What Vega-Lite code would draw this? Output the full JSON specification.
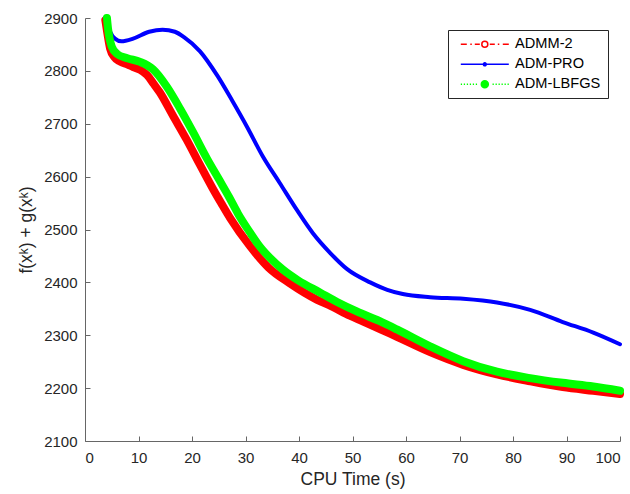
{
  "$schema": "https://vega.github.io/schema/vega-lite/v6.json",
  "width": 535,
  "height": 423,
  "autosize": "none",
  "padding": {"left": 85, "top": 18, "right": 10, "bottom": 53},
  "background": "white",
  "config": {
    "font": "Liberation Sans",
    "view": {"stroke": null},
    "axis": {
      "grid": false,
      "domainColor": "#666666",
      "tickColor": "#666666",
      "labelColor": "#262626",
      "titleColor": "#262626",
      "labelFontSize": 15,
      "titleFontSize": 17.5,
      "titleFontWeight": "normal",
      "tickSize": -5,
      "domainWidth": 1,
      "tickWidth": 1,
      "format": "d"
    }
  },
  "data": {
    "values": [
      {"method": "ADMM-2", "t": 3.8, "f": 2896},
      {"method": "ADMM-2", "t": 4.2, "f": 2870},
      {"method": "ADMM-2", "t": 4.7, "f": 2842},
      {"method": "ADMM-2", "t": 5.5, "f": 2826},
      {"method": "ADMM-2", "t": 6.5, "f": 2818},
      {"method": "ADMM-2", "t": 8.0, "f": 2812},
      {"method": "ADMM-2", "t": 9.0, "f": 2807},
      {"method": "ADMM-2", "t": 10.3, "f": 2802},
      {"method": "ADMM-2", "t": 11.6, "f": 2792},
      {"method": "ADMM-2", "t": 12.8, "f": 2776},
      {"method": "ADMM-2", "t": 14.0, "f": 2759},
      {"method": "ADMM-2", "t": 16.4, "f": 2716},
      {"method": "ADMM-2", "t": 19.0, "f": 2670},
      {"method": "ADMM-2", "t": 21.4, "f": 2624},
      {"method": "ADMM-2", "t": 23.9, "f": 2577},
      {"method": "ADMM-2", "t": 25.5, "f": 2549},
      {"method": "ADMM-2", "t": 27.1, "f": 2522},
      {"method": "ADMM-2", "t": 30.8, "f": 2469},
      {"method": "ADMM-2", "t": 34.3, "f": 2428},
      {"method": "ADMM-2", "t": 38.3, "f": 2398},
      {"method": "ADMM-2", "t": 43.4, "f": 2367},
      {"method": "ADMM-2", "t": 46.0, "f": 2355},
      {"method": "ADMM-2", "t": 49.5, "f": 2337},
      {"method": "ADMM-2", "t": 52.0, "f": 2326},
      {"method": "ADMM-2", "t": 58.3, "f": 2297},
      {"method": "ADMM-2", "t": 64.5, "f": 2268},
      {"method": "ADMM-2", "t": 70.7, "f": 2244},
      {"method": "ADMM-2", "t": 77.0, "f": 2226},
      {"method": "ADMM-2", "t": 83.2, "f": 2213},
      {"method": "ADMM-2", "t": 89.3, "f": 2202},
      {"method": "ADMM-2", "t": 95.0, "f": 2195},
      {"method": "ADMM-2", "t": 100.0, "f": 2189},
      {"method": "ADM-PRO", "t": 3.7, "f": 2900},
      {"method": "ADM-PRO", "t": 4.2, "f": 2888},
      {"method": "ADM-PRO", "t": 4.7, "f": 2874},
      {"method": "ADM-PRO", "t": 5.6, "f": 2861},
      {"method": "ADM-PRO", "t": 6.8, "f": 2856},
      {"method": "ADM-PRO", "t": 9.0, "f": 2861},
      {"method": "ADM-PRO", "t": 12.0, "f": 2874},
      {"method": "ADM-PRO", "t": 14.5, "f": 2878},
      {"method": "ADM-PRO", "t": 16.8, "f": 2874},
      {"method": "ADM-PRO", "t": 18.5, "f": 2864},
      {"method": "ADM-PRO", "t": 21.5, "f": 2837},
      {"method": "ADM-PRO", "t": 24.8, "f": 2790},
      {"method": "ADM-PRO", "t": 27.5, "f": 2744},
      {"method": "ADM-PRO", "t": 30.3, "f": 2694},
      {"method": "ADM-PRO", "t": 33.3, "f": 2637},
      {"method": "ADM-PRO", "t": 36.4, "f": 2588},
      {"method": "ADM-PRO", "t": 39.6, "f": 2537},
      {"method": "ADM-PRO", "t": 42.6, "f": 2493},
      {"method": "ADM-PRO", "t": 45.8, "f": 2456},
      {"method": "ADM-PRO", "t": 49.0, "f": 2425},
      {"method": "ADM-PRO", "t": 53.3, "f": 2400},
      {"method": "ADM-PRO", "t": 56.5, "f": 2386},
      {"method": "ADM-PRO", "t": 59.4, "f": 2378},
      {"method": "ADM-PRO", "t": 64.5, "f": 2372},
      {"method": "ADM-PRO", "t": 70.7, "f": 2369},
      {"method": "ADM-PRO", "t": 77.0, "f": 2362},
      {"method": "ADM-PRO", "t": 83.2, "f": 2348},
      {"method": "ADM-PRO", "t": 89.3, "f": 2325},
      {"method": "ADM-PRO", "t": 95.0, "f": 2305},
      {"method": "ADM-PRO", "t": 100.0, "f": 2283},
      {"method": "ADM-LBFGS", "t": 4.1, "f": 2900},
      {"method": "ADM-LBFGS", "t": 4.3, "f": 2880},
      {"method": "ADM-LBFGS", "t": 5.0, "f": 2846},
      {"method": "ADM-LBFGS", "t": 6.0, "f": 2832},
      {"method": "ADM-LBFGS", "t": 7.9, "f": 2824},
      {"method": "ADM-LBFGS", "t": 10.3, "f": 2817},
      {"method": "ADM-LBFGS", "t": 12.7, "f": 2803},
      {"method": "ADM-LBFGS", "t": 15.3, "f": 2770},
      {"method": "ADM-LBFGS", "t": 17.8, "f": 2728},
      {"method": "ADM-LBFGS", "t": 20.2, "f": 2684},
      {"method": "ADM-LBFGS", "t": 22.8, "f": 2634},
      {"method": "ADM-LBFGS", "t": 25.2, "f": 2592},
      {"method": "ADM-LBFGS", "t": 26.9, "f": 2562},
      {"method": "ADM-LBFGS", "t": 28.6, "f": 2530},
      {"method": "ADM-LBFGS", "t": 30.8, "f": 2495},
      {"method": "ADM-LBFGS", "t": 32.5, "f": 2470},
      {"method": "ADM-LBFGS", "t": 34.6, "f": 2446},
      {"method": "ADM-LBFGS", "t": 37.0, "f": 2424},
      {"method": "ADM-LBFGS", "t": 39.8, "f": 2404},
      {"method": "ADM-LBFGS", "t": 43.9, "f": 2381},
      {"method": "ADM-LBFGS", "t": 47.5, "f": 2361},
      {"method": "ADM-LBFGS", "t": 50.8, "f": 2345},
      {"method": "ADM-LBFGS", "t": 55.0, "f": 2327},
      {"method": "ADM-LBFGS", "t": 58.3, "f": 2311},
      {"method": "ADM-LBFGS", "t": 64.5, "f": 2279},
      {"method": "ADM-LBFGS", "t": 70.7, "f": 2251},
      {"method": "ADM-LBFGS", "t": 77.0, "f": 2231},
      {"method": "ADM-LBFGS", "t": 83.2, "f": 2219},
      {"method": "ADM-LBFGS", "t": 89.3, "f": 2210},
      {"method": "ADM-LBFGS", "t": 95.0, "f": 2203},
      {"method": "ADM-LBFGS", "t": 100.0, "f": 2195}
    ]
  },
  "encoding": {
    "x": {
      "field": "t", "type": "quantitative",
      "scale": {"domain": [0, 100], "nice": false},
      "axis": {"values": [0, 10, 20, 30, 40, 50, 60, 70, 80, 90, 100], "title": "CPU Time (s)", "labelPadding": 14, "titlePadding": 5}
    },
    "y": {
      "field": "f", "type": "quantitative",
      "scale": {"domain": [2100, 2900], "nice": false, "zero": false},
      "axis": {"values": [2100, 2200, 2300, 2400, 2500, 2600, 2700, 2800, 2900], "title": "f(xᵏ) + g(xᵏ)", "labelPadding": 13, "titlePadding": 8}
    },
    "color": {
      "field": "method", "type": "nominal",
      "scale": {"domain": ["ADMM-2", "ADM-PRO", "ADM-LBFGS"], "range": ["#ff0000", "#0000ff", "#00ff00"]},
      "legend": {
        "orient": "none", "legendX": 363, "legendY": 12, "title": null,
        "strokeColor": "#262626", "fillColor": "white", "padding": 7,
        "labelFontSize": 14.6, "labelColor": "black", "labelFont": "Liberation Sans",
        "symbolSize": 100, "symbolStrokeWidth": 1.5, "rowPadding": 5,
        "symbolOffset": 22.5, "labelOffset": 23,
        "labelExpr": "datum.label + ' '",
        "encode": {
          "symbols": {
            "update": {
              "shape": {"signal": "datum.value === 'ADMM-2' ? 'M-4.8,0H-3.6M-2.9,0H-2.6M-2.0,0H-1.0M0.6,0A0.6,0.6,0,1,1,-0.6,0A0.6,0.6,0,1,1,0.6,0M1.0,0H2.0M2.6,0H2.9M3.6,0H4.8' : datum.value === 'ADM-PRO' ? 'M-4.8,0H4.8M0.3,0A0.3,0.3,0,1,1,-0.3,0A0.3,0.3,0,1,1,0.3,0' : 'M-4.8,0h0.25M-4.2,0h0.25M-3.6,0h0.25M-3.0,0h0.25M-2.4,0h0.25M-1.8,0h0.25M1.55,0h0.25M2.15,0h0.25M2.75,0h0.25M3.35,0h0.25M3.95,0h0.25M4.55,0h0.25M0.7,0A0.7,0.7,0,1,1,-0.7,0A0.7,0.7,0,1,1,0.7,0'"},
              "fill": {"signal": "datum.value === 'ADMM-2' ? 'white' : datum.value === 'ADM-PRO' ? '#0000ff' : '#00ff00'"},
              "stroke": {"signal": "datum.value === 'ADMM-2' ? '#ff0000' : datum.value === 'ADM-PRO' ? '#0000ff' : '#00ff00'"},
              "strokeWidth": {"value": 1.5},
              "opacity": {"value": 1}
            }
          }
        }
      }
    }
  },
  "layer": [
    {
      "transform": [{"filter": "datum.method === 'ADMM-2'"}],
      "mark": {"type": "line", "strokeWidth": 8, "strokeCap": "round", "strokeJoin": "round", "interpolate": "monotone"}
    },
    {
      "transform": [{"filter": "datum.method === 'ADM-PRO'"}],
      "mark": {"type": "line", "strokeWidth": 4, "strokeCap": "round", "strokeJoin": "round", "interpolate": "monotone"}
    },
    {
      "transform": [{"filter": "datum.method === 'ADM-LBFGS'"}],
      "mark": {"type": "line", "strokeWidth": 8, "strokeCap": "round", "strokeJoin": "round", "interpolate": "monotone"}
    }
  ]
}
